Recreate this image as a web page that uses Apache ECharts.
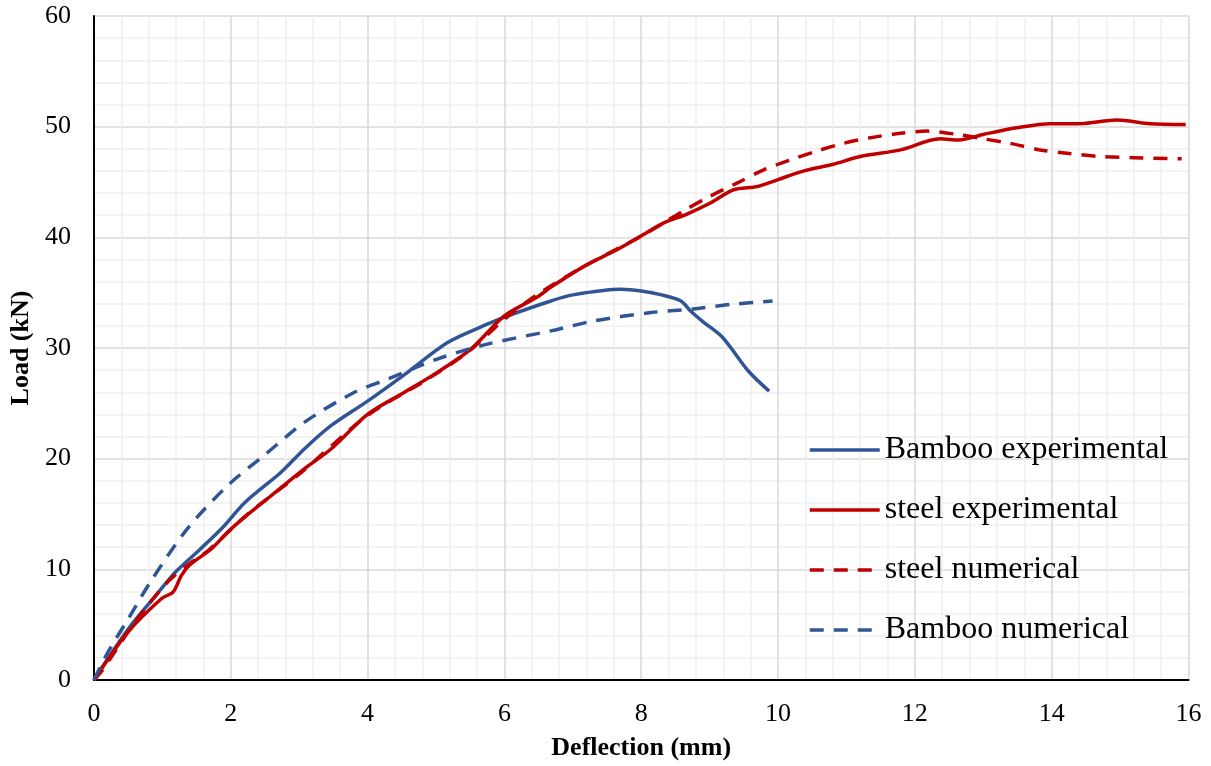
<!DOCTYPE html>
<html>
<head>
<meta charset="utf-8">
<script src="https://cdn.jsdelivr.net/npm/echarts@6/dist/echarts.min.js"></script>
<style>
html,body{margin:0;padding:0;background:#fff;}
#chart{width:1211px;height:766px;}
</style>
</head>
<body>
<div id="chart"></div>
<script>
// ---- data ----
const bambooExpX = [0, 0.2, 0.55, 0.9, 1.2, 1.55, 1.9, 2.2, 2.74, 3.08, 3.47, 4.0, 4.54, 5.17, 5.75, 6.05, 6.68, 7.0, 7.7, 8.0, 8.3, 8.58, 8.72, 8.92, 9.19, 9.57, 9.87];
const bambooExpY = [0, 1.9, 5.0, 7.6, 9.8, 11.8, 13.9, 16.0, 18.8, 20.9, 23.0, 25.2, 27.6, 30.5, 32.15, 32.9, 34.25, 34.8, 35.3, 35.15, 34.8, 34.25, 33.35, 32.3, 30.95, 27.9, 26.1];

const steelExpX = [0, 0.2, 0.5, 0.99, 1.16, 1.28, 1.4, 1.72, 1.96, 2.2, 2.54, 3.08, 3.47, 4.0, 4.54, 5.02, 5.51, 6.0, 6.48, 6.68, 7.17, 7.65, 7.99, 8.33, 8.67, 9.01, 9.35, 9.7, 9.99, 10.38, 10.81, 11.2, 11.79, 12.37, 12.64, 13.0, 13.49, 13.98, 14.42, 14.95, 15.44, 15.96];
const steelExpY = [0, 1.8, 4.36, 7.36, 7.97, 9.46, 10.4, 11.87, 13.4, 14.7, 16.4, 19.1, 20.9, 24.0, 26.0, 27.8, 29.9, 32.9, 34.6, 35.5, 37.4, 38.9, 40.1, 41.3, 42.1, 43.1, 44.3, 44.6, 45.2, 46.0, 46.6, 47.3, 47.9, 48.9, 48.8, 49.3, 49.9, 50.27, 50.27, 50.6, 50.27, 50.2];

const steelNumX = [0, 0.11, 0.55, 0.79, 1.08, 1.35, 1.67, 2.25, 3.0, 4.0, 4.88, 5.5, 6.0, 6.5, 7.2, 8.0, 8.62, 8.97, 9.4, 9.79, 10.18, 10.57, 10.96, 11.35, 11.79, 12.18, 12.62, 13.0, 13.39, 13.83, 14.22, 14.71, 15.2, 15.9];
const steelNumY = [0, 0.76, 4.8, 6.76, 8.87, 10.3, 11.7, 15.0, 18.6, 23.9, 27.2, 29.8, 32.6, 34.9, 37.5, 40.1, 42.4, 43.6, 44.9, 46.1, 47.0, 47.8, 48.5, 49.0, 49.4, 49.6, 49.3, 48.9, 48.5, 47.9, 47.6, 47.3, 47.2, 47.1];

const bambooNumX = [0, 0.21, 0.5, 0.84, 1.37, 1.96, 2.49, 3.08, 3.81, 4.3, 5.02, 5.75, 6.68, 7.31, 8.14, 8.72, 9.33, 9.92];
const bambooNumY = [0, 2.56, 5.5, 9.0, 13.7, 17.6, 20.3, 23.3, 26.0, 27.2, 29.0, 30.35, 31.55, 32.45, 33.2, 33.5, 33.95, 34.25];

const seriesNames = ['Bamboo experimental', 'steel experimental', 'steel numerical', 'Bamboo numerical'];
const xAxisTitle = 'Deflection (mm)';
const yAxisTitle = 'Load (kN)';

// ---- build chart ----
const zip = (xs, ys) => xs.map((x, i) => [x, ys[i]]);
const FONT = "'Liberation Serif', 'Times New Roman', serif";
const BLUE = '#2F5597';
const RED = '#C00000';
const DASH = [14, 10];

function lineSeries(name, data, color, dashed) {
  return {
    name: name,
    type: 'line',
    data: data,
    smooth: 0.3,
    showSymbol: false,
    symbol: 'none',
    lineStyle: {
      color: color,
      width: 3.5,
      type: dashed ? DASH : 'solid',
      cap: 'butt',
      join: 'round'
    },
    itemStyle: { color: color },
    emphasis: { disabled: true },
    animation: false
  };
}

const chart = echarts.init(document.getElementById('chart'), null, { renderer: 'canvas' });
chart.setOption({
  backgroundColor: '#ffffff',
  animation: false,
  textStyle: { fontFamily: FONT },
  grid: { left: 92.5, right: 22.5, top: 16, bottom: 84.3, containLabel: false },
  legend: {
    orient: 'vertical',
    left: 808,
    top: 434,
    padding: 0,
    itemWidth: 70,
    itemHeight: 14,
    itemGap: 28,
    data: seriesNames,
    itemStyle: { opacity: 0 },
    lineStyle: { width: 3.5 },
    textStyle: { fontFamily: FONT, fontSize: 32, color: '#000', lineHeight: 32 },
    selectedMode: false
  },
  xAxis: {
    type: 'value',
    min: 0,
    max: 16,
    interval: 2,
    name: xAxisTitle,
    nameLocation: 'middle',
    nameGap: 55,
    nameTextStyle: { fontFamily: FONT, fontSize: 26, fontWeight: 'bold', color: '#000' },
    axisLine: { show: true, onZero: false, lineStyle: { color: '#000', width: 2 } },
    axisTick: { show: false },
    axisLabel: { fontFamily: FONT, fontSize: 26, color: '#000', margin: 21 },
    splitLine: { show: true, lineStyle: { color: '#d9d9d9', width: 1.5 } },
    minorTick: { show: false, splitNumber: 5 },
    minorSplitLine: { show: true, lineStyle: { color: '#f0f0f0', width: 1.5 } }
  },
  yAxis: {
    type: 'value',
    min: 0,
    max: 60,
    interval: 10,
    name: yAxisTitle,
    nameLocation: 'middle',
    nameGap: 51,
    nameTextStyle: { fontFamily: FONT, fontSize: 26, fontWeight: 'bold', color: '#000' },
    axisLine: { show: true, onZero: false, lineStyle: { color: '#000', width: 2 } },
    axisTick: { show: false },
    axisLabel: { fontFamily: FONT, fontSize: 26, color: '#000', margin: 23 },
    splitLine: { show: true, lineStyle: { color: '#d9d9d9', width: 1.5 } },
    minorTick: { show: false, splitNumber: 5 },
    minorSplitLine: { show: true, lineStyle: { color: '#f0f0f0', width: 1.5 } }
  },
  series: [
    lineSeries(seriesNames[0], zip(bambooExpX, bambooExpY), BLUE, false),
    lineSeries(seriesNames[1], zip(steelExpX, steelExpY), RED, false),
    lineSeries(seriesNames[2], zip(steelNumX, steelNumY), RED, true),
    lineSeries(seriesNames[3], zip(bambooNumX, bambooNumY), BLUE, true)
  ]
});
</script>
</body>
</html>
